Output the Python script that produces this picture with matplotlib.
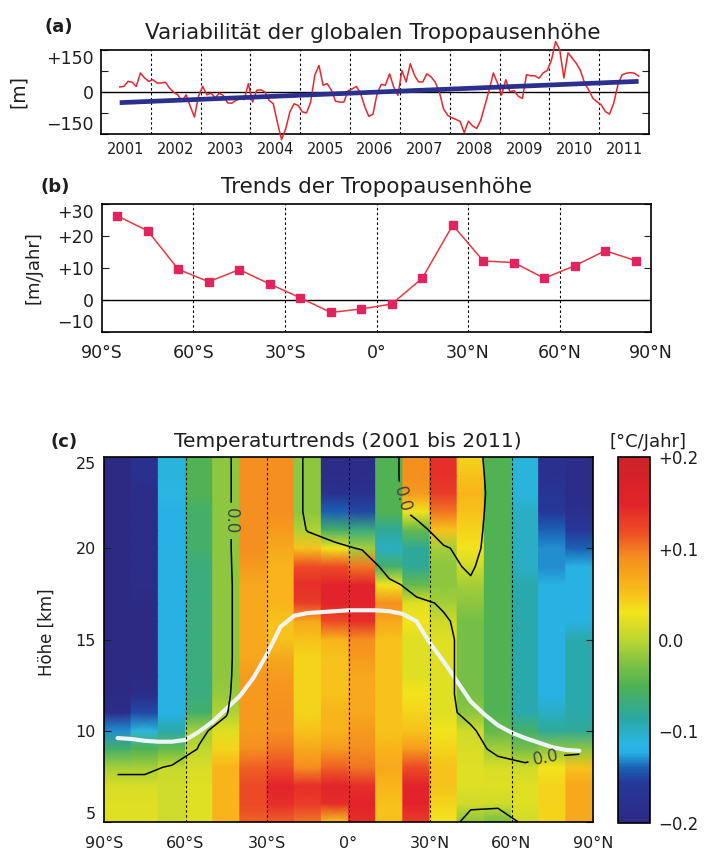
import numpy as np
import matplotlib
matplotlib.use('Agg')
import matplotlib.pyplot as plt
from matplotlib.colors import LinearSegmentedColormap, Normalize
import matplotlib.colorbar as mcolorbar

plt.rcParams['font.family'] = ['DejaVu Sans']
TXT = '#1e1e1e'
plt.rcParams['text.color'] = TXT
plt.rcParams['xtick.color'] = TXT
plt.rcParams['ytick.color'] = TXT

# ---------------- data: panel (a) ----------------
START_YEAR = 2001.375          # first monthly value (mid May 2001)
TROPO_ANOMALY = [18, 20, 38, 35, 20, 68, 50, 38, 44, 32, 32, 35, 14, -1, -10, -33, -10, -51, -89, -15,
                 20, -10, -4, -21, -4, -13, -39, -40, -30, -24, -27, 30, -36, 6, 8, 0, -30, -42, -110, -170,
                 -131, -71, -42, -48, -71, -75, -36, 60, 95, 24, 30, 6, -33, -36, -36, 4, 11, 20, -4, -51,
                 -87, -80, -6, 27, 24, 65, 18, -12, 77, 36, 101, 60, 36, 36, 65, 54, 35, 0, -60, -83,
                 -92, -98, -105, -145, -104, -121, -130, -100, -46, 7, 68, 32, -11, 44, 1, 5, -15, -23, 62, 58,
                 58, 49, 68, 77, 114, 180, 150, 50, 140, 121, 102, 77, 31, 7, -23, -35, -46, -70, -79, -40,
                 25, 61, 67, 69, 67, 57]
TREND_LINE = [-38, 38]
YEARS = [2001, 2002, 2003, 2004, 2005, 2006, 2007, 2008, 2009, 2010, 2011]

# ---------------- data: panel (b) ----------------
LAT_B = [-85, -75, -65, -55, -45, -35, -25, -15, -5, 5, 15, 25, 35, 45, 55, 65, 75, 85]
TREND_B = [26.3, 21.6, 9.6, 5.7, 9.5, 5.0, 0.7, -3.9, -2.8, -1.25, 6.8, 23.4, 12.2, 11.7, 6.8, 10.7, 15.4, 12.3]

# ---------------- data: panel (c) ----------------
LAT_EDGES = [-90, -80, -70, -60, -50, -40, -30, -20, -10, 0, 10, 20, 30, 40, 50, 60, 70, 80, 90]
HEIGHTS = [5, 6, 7, 8, 9, 10, 11, 12, 13, 14, 15, 16, 17, 18, 19, 20, 21, 22, 23, 24, 25]
# temperature trend [degC/yr] per 10 deg latitude band, from 5 km to 25 km
TT_90S = [0.02, 0.02, 0.015, -0.01, -0.06, -0.13, -0.19, -0.20, -0.20, -0.20, -0.20, -0.20, -0.20, -0.20, -0.20, -0.20, -0.20, -0.20, -0.20, -0.20, -0.20]
TT_80S = [0.02, 0.02, 0.015, -0.01, -0.05, -0.11, -0.15, -0.19, -0.20, -0.20, -0.20, -0.20, -0.20, -0.19, -0.19, -0.19, -0.19, -0.19, -0.19, -0.18, -0.18]
TT_70S = [0.01, 0.01, 0.01, 0.005, -0.04, -0.09, -0.12, -0.12, -0.12, -0.12, -0.12, -0.12, -0.12, -0.12, -0.12, -0.12, -0.12, -0.12, -0.115, -0.11, -0.11]
TT_60S = [0.02, 0.02, 0.02, 0.015, 0.003, -0.01, -0.06, -0.07, -0.07, -0.07, -0.07, -0.07, -0.07, -0.07, -0.07, -0.06, -0.06, -0.06, -0.05, -0.05, -0.05]
TT_50S = [0.06, 0.06, 0.06, 0.06, 0.04, 0.02, -0.005, -0.015, -0.02, -0.02, -0.02, -0.02, -0.02, -0.02, -0.02, -0.02, -0.02, -0.02, -0.02, -0.02, -0.02]
TT_40S = [0.11, 0.12, 0.12, 0.11, 0.09, 0.08, 0.08, 0.08, 0.08, 0.07, 0.07, 0.07, 0.07, 0.07, 0.08, 0.09, 0.09, 0.09, 0.09, 0.09, 0.09]
TT_30S = [0.11, 0.14, 0.15, 0.12, 0.10, 0.09, 0.09, 0.085, 0.08, 0.07, 0.05, 0.05, 0.06, 0.06, 0.06, 0.07, 0.08, 0.09, 0.09, 0.09, 0.09]
TT_20S = [0.10, 0.13, 0.14, 0.09, 0.07, 0.05, 0.04, 0.04, 0.04, 0.04, 0.05, 0.07, 0.13, 0.14, 0.12, 0.05, -0.005, -0.02, -0.02, -0.02, -0.02]
TT_10S = [0.05, 0.14, 0.15, 0.11, 0.08, 0.06, 0.06, 0.05, 0.05, 0.05, 0.06, 0.12, 0.15, 0.15, 0.12, 0.03, -0.06, -0.14, -0.18, -0.19, -0.19]
TT_00N = [0.14, 0.15, 0.14, 0.10, 0.09, 0.08, 0.07, 0.07, 0.07, 0.08, 0.09, 0.14, 0.15, 0.15, 0.10, -0.01, -0.07, -0.15, -0.18, -0.19, -0.19]
TT_10N = [0.05, 0.05, 0.06, 0.07, 0.06, 0.05, 0.05, 0.05, 0.05, 0.05, 0.05, 0.07, 0.09, 0.03, -0.06, -0.10, -0.08, -0.05, -0.05, -0.05, -0.05]
TT_20N = [0.13, 0.15, 0.15, 0.12, 0.08, 0.05, 0.04, 0.03, 0.02, 0.02, 0.02, 0.03, 0.02, -0.04, -0.08, -0.08, -0.04, 0.03, 0.08, 0.09, 0.09]
TT_30N = [0.03, 0.04, 0.05, 0.05, 0.04, 0.03, 0.02, 0.02, 0.02, 0.02, 0.02, 0.01, -0.01, -0.02, -0.02, -0.01, 0.05, 0.10, 0.13, 0.14, 0.14]
TT_40N = [-0.02, 0.01, 0.02, 0.02, 0.015, 0.01, -0.02, -0.03, -0.03, -0.03, -0.03, -0.03, -0.02, -0.01, 0.01, 0.03, 0.04, 0.05, 0.06, 0.05, 0.04]
TT_50N = [-0.03, 0.01, 0.02, 0.015, -0.01, -0.04, -0.05, -0.05, -0.05, -0.05, -0.05, -0.05, -0.05, -0.05, -0.05, -0.05, -0.05, -0.05, -0.05, -0.05, -0.05]
TT_60N = [0.01, 0.02, 0.02, 0.01, -0.03, -0.06, -0.09, -0.09, -0.09, -0.09, -0.09, -0.09, -0.09, -0.09, -0.10, -0.10, -0.10, -0.10, -0.11, -0.11, -0.11]
TT_70N = [0.04, 0.04, 0.04, 0.03, -0.02, -0.08, -0.10, -0.12, -0.12, -0.12, -0.12, -0.12, -0.12, -0.12, -0.13, -0.13, -0.14, -0.16, -0.17, -0.18, -0.18]
TT_80N = [0.07, 0.07, 0.07, 0.05, -0.02, -0.08, -0.09, -0.09, -0.09, -0.09, -0.09, -0.12, -0.12, -0.12, -0.12, -0.14, -0.16, -0.18, -0.19, -0.19, -0.19]
TEMP_TREND_COLS = [TT_90S, TT_80S, TT_70S, TT_60S, TT_50S, TT_40S, TT_30S, TT_20S, TT_10S,
                   TT_00N, TT_10N, TT_20N, TT_30N, TT_40N, TT_50N, TT_60N, TT_70N, TT_80N]

TROPO_LAT = [-85, -80, -75, -70, -65, -60, -55, -50, -45, -40, -35, -30, -25, -20, -15, -10, -5, 0,
             5, 10, 15, 20, 25, 30, 35, 40, 45, 50, 55, 60, 65, 70, 75, 80, 85]
TROPO_H = [9.6, 9.55, 9.45, 9.4, 9.4, 9.5, 9.95, 10.5, 11.2, 11.9, 12.9, 14.2, 15.7, 16.3, 16.45, 16.5, 16.55, 16.6,
           16.6, 16.6, 16.55, 16.4, 16.0, 14.8, 13.8, 12.7, 11.6, 10.9, 10.3, 9.9, 9.6, 9.35, 9.1, 8.95, 8.9]

LAT_TICKS = [-90, -60, -30, 0, 30, 60, 90]
LAT_LABELS = ['90°S', '60°S', '30°S', '0°', '30°N', '60°N', '90°N']

# ---------------- figure ----------------
W, H = 711, 867
fig = plt.figure(figsize=(W / 100, H / 100), dpi=100)
fig.patch.set_facecolor('white')


def box(l, t, r, b):
    return [l / W, 1 - b / H, (r - l) / W, (b - t) / H]


def ftext(x, y, s, **kw):
    fig.text(x / W, 1 - y / H, s, **kw)


def edge_labels(axis):
    ticks = axis.get_major_ticks()
    ticks[0].label1.set_verticalalignment('bottom')
    ticks[-1].label1.set_verticalalignment('top')


DASH = (0, (2.2, 2.2))

# ----- panel (a)
axa = fig.add_axes(box(101, 50, 649, 134))
t = START_YEAR + np.arange(len(TROPO_ANOMALY)) / 12.0
axa.plot(t, TROPO_ANOMALY, color='#e8262e', lw=1.1, clip_on=False, zorder=4)
axa.plot([t[0], t[-1]], TREND_LINE, color='#2b2f8e', lw=3.4, solid_capstyle='butt', zorder=5)
axa.axhline(0, color='k', lw=1.0, zorder=2)
for y in YEARS[1:]:
    axa.axvline(y, color='k', ls=DASH, lw=0.8, zorder=1)
axa.set_xlim(YEARS[0], YEARS[-1] + 1)
axa.set_ylim(-150, 150)
axa.set_yticks([-150, -75, 0, 75, 150])
axa.set_yticklabels(['\u2212150', '', '0', '', '+150'])
axa.set_xticks(np.array(YEARS) + 0.5)
axa.set_xticklabels([str(y) for y in YEARS])
axa.tick_params(axis='x', length=0, pad=6, labelsize=10.5)
axa.tick_params(axis='y', direction='in', length=5, right=True, labelsize=12.5, pad=5)
edge_labels(axa.yaxis)
for s in axa.spines.values():
    s.set_linewidth(1.2)

ftext(45, 27, '(a)', fontsize=13, fontweight='bold', va='center', ha='left')
ftext(373, 33, 'Variabilität der globalen Tropopausenhöhe', fontsize=15.5, ha='center', va='center')
ftext(18, 92, '[m]', fontsize=13.5, rotation=90, ha='center', va='center')

# ----- panel (b)
axb = fig.add_axes(box(102, 204, 651, 332))
axb.plot(LAT_B, TREND_B, color='#e8383d', lw=1.1, marker='s', ms=5.5,
         mfc='#e0245f', mec='#e0245f', zorder=4)
axb.axhline(0, color='k', lw=1.0, zorder=2)
for x in LAT_TICKS[1:-1]:
    axb.axvline(x, color='k', ls=DASH, lw=0.8, zorder=1)
axb.set_xlim(-90, 90)
axb.set_ylim(-10, 30)
axb.set_yticks([-10, 0, 10, 20, 30])
axb.set_yticklabels(['\u221210', '0', '+10', '+20', '+30'])
axb.set_xticks(LAT_TICKS)
axb.set_xticklabels(LAT_LABELS)
axb.tick_params(axis='x', length=0, pad=9, labelsize=12.5)
axb.tick_params(axis='y', direction='in', length=5, right=True, labelsize=12.5, pad=6)
edge_labels(axb.yaxis)
for s in axb.spines.values():
    s.set_linewidth(1.2)

ftext(41, 187, '(b)', fontsize=13, fontweight='bold', va='center', ha='left')
ftext(376, 187, 'Trends der Tropopausenhöhe', fontsize=15.5, ha='center', va='center')
ftext(33, 268, '[m/Jahr]', fontsize=13, rotation=90, ha='center', va='center')

# ----- panel (c)
cmap = LinearSegmentedColormap.from_list('trend', [
    (0.000, '#2d2a84'), (0.110, '#25399a'), (0.150, '#1b62b5'), (0.190, '#27aee3'),
    (0.215, '#2ab6e4'), (0.285, '#2aa7a3'), (0.375, '#4fb252'), (0.450, '#8cc63f'),
    (0.500, '#bcd631'), (0.575, '#f2e41c'), (0.650, '#f8b41a'), (0.725, '#f58f1f'),
    (0.800, '#ec4a26'), (0.875, '#e3232b'), (1.000, '#cc2229')])
norm = Normalize(-0.2, 0.2)

axc = fig.add_axes(box(104, 457, 593, 822))
data = np.array(TEMP_TREND_COLS).T          # (heights, latitudes)
xs = np.repeat(np.array(LAT_EDGES, float), 2)[1:-1]
Xg, Yg = np.meshgrid(xs, np.array(HEIGHTS, float))
Cg = np.repeat(data, 2, axis=1)
axc.pcolormesh(Xg, Yg, Cg, cmap=cmap, norm=norm, shading='gouraud', zorder=1)

lat_c = (np.array(LAT_EDGES[:-1]) + np.array(LAT_EDGES[1:])) / 2.0
axc.plot(TROPO_LAT, TROPO_H, color='#eef3f6', lw=3.0, zorder=3, solid_capstyle='round')
cs = axc.contour(lat_c, HEIGHTS, data, levels=[0.0], colors='k', linewidths=1.1, zorder=4)
axc.clabel(cs, fmt={0.0: '0.0'}, fontsize=12, colors='#444444', inline=True,
           manual=[(-44, 21.5), (22, 22.8), (72, 9.0)])
for x in LAT_TICKS[1:-1]:
    axc.axvline(x, color='k', ls=DASH, lw=0.8, zorder=5)
axc.set_xlim(-90, 90)
axc.set_ylim(5, 25)
axc.set_yticks([5, 10, 15, 20, 25])
axc.set_yticklabels(['5', '10', '15', '20', '25'])
axc.set_xticks(LAT_TICKS)
axc.set_xticklabels(LAT_LABELS)
axc.tick_params(axis='x', length=0, pad=10, labelsize=11.5)
axc.tick_params(axis='y', direction='in', length=5, right=True, labelsize=11.5, pad=6)
edge_labels(axc.yaxis)
for s in axc.spines.values():
    s.set_linewidth(1.2)
    s.set_zorder(6)

ftext(50, 442, '(c)', fontsize=13, fontweight='bold', va='center', ha='left')
ftext(348, 442, 'Temperaturtrends (2001 bis 2011)', fontsize=14.5, ha='center', va='center')
ftext(47, 632, 'Höhe [km]', fontsize=12, rotation=90, ha='center', va='center')

# ----- colorbar
cax = fig.add_axes(box(618, 457, 650, 823))
cb = mcolorbar.ColorbarBase(cax, cmap=cmap, norm=norm, orientation='vertical')
cb.set_ticks([-0.2, -0.1, 0.0, 0.1, 0.2])
cb.set_ticklabels(['\u22120.2', '\u22120.1', '0.0', '+0.1', '+0.2'])
cax.tick_params(length=0, labelsize=12, pad=6)
cb.outline.set_linewidth(1.2)
edge_labels(cax.yaxis)
ftext(648, 442, '[°C/Jahr]', fontsize=13, ha='center', va='center')

fig.savefig('out.png', dpi=100, facecolor='white')
